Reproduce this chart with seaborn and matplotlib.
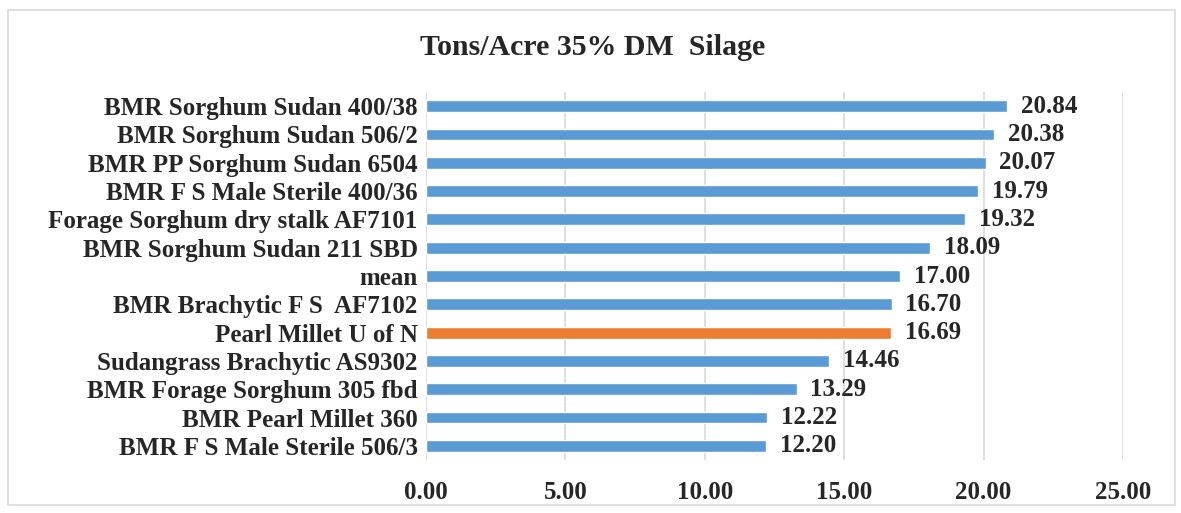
import matplotlib
matplotlib.use("Agg")
import pandas as pd
import seaborn as sns
import matplotlib.pyplot as plt
from matplotlib.patches import Rectangle

# %%-----------------------------------------------------------------------
# data (top to bottom as shown)

varieties = [
    "BMR Sorghum Sudan 400/38",
    "BMR Sorghum Sudan 506/2",
    "BMR PP Sorghum Sudan 6504",
    "BMR F S Male Sterile 400/36",
    "Forage Sorghum dry stalk AF7101",
    "BMR Sorghum Sudan 211 SBD",
    "mean",
    "BMR Brachytic F S  AF7102",
    "Pearl Millet U of N",
    "Sudangrass Brachytic AS9302",
    "BMR Forage Sorghum 305 fbd",
    "BMR Pearl Millet 360",
    "BMR F S Male Sterile 506/3",
]
tons_acre = [20.84, 20.38, 20.07, 19.79, 19.32, 18.09, 17.00,
             16.70, 16.69, 14.46, 13.29, 12.22, 12.20]
highlight = "Pearl Millet U of N"
x_ticks = [0, 5, 10, 15, 20, 25]

df = pd.DataFrame({"variety": varieties, "tons": tons_acre})
df["group"] = ["hl" if v == highlight else "base" for v in df["variety"]]

# %%-----------------------------------------------------------------------
# plot

sns.set_style("white")
plt.rcParams["font.family"] = ["Liberation Serif", "DejaVu Serif"]
plt.rcParams["font.weight"] = "bold"
txt = "#262626"

fig = plt.figure(figsize=(11.81, 5.13), dpi=100)
ax = fig.add_axes([0.3607, 0.1033, 0.5902, 0.7173])

sns.barplot(data=df, x="tons", y="variety", hue="group", orient="h",
            palette={"base": "#5B9BD5", "hl": "#ED7D31"}, width=0.42,
            saturation=1, legend=False, dodge=False, ax=ax)

for cont in ax.containers:
    ax.bar_label(cont, labels=[f"{w.get_width():.2f}" for w in cont],
                 padding=10, fontsize=18, fontweight="bold", color=txt)

ax.set_xlim(0, 25)
ax.set_xticks(x_ticks)
ax.set_xticklabels([f"{t:.2f}" for t in x_ticks], fontsize=18,
                   fontweight="bold", color=txt)
ax.set_yticks(range(len(varieties)))
ax.set_yticklabels(varieties, fontsize=18, fontweight="bold", color=txt)
ax.tick_params(axis="x", length=0, pad=15)
ax.tick_params(axis="y", length=0, pad=6)
ax.set_xlabel("")
ax.set_ylabel("")
ax.xaxis.grid(True, color="#D9D9D9", linewidth=1.2)
ax.set_axisbelow(True)
for s in ax.spines.values():
    s.set_visible(False)

fig.text(0.502, 0.908, "Tons/Acre 35% DM  Silage", ha="center", va="center",
         fontsize=21.5, fontweight="bold", color=txt)

# chart border
fig.patches.append(Rectangle((0.007, 0.016), 0.988, 0.965, transform=fig.transFigure,
                             fill=False, edgecolor="#D9D9D9", linewidth=1.2))

fig.savefig("out.png", dpi=100)
